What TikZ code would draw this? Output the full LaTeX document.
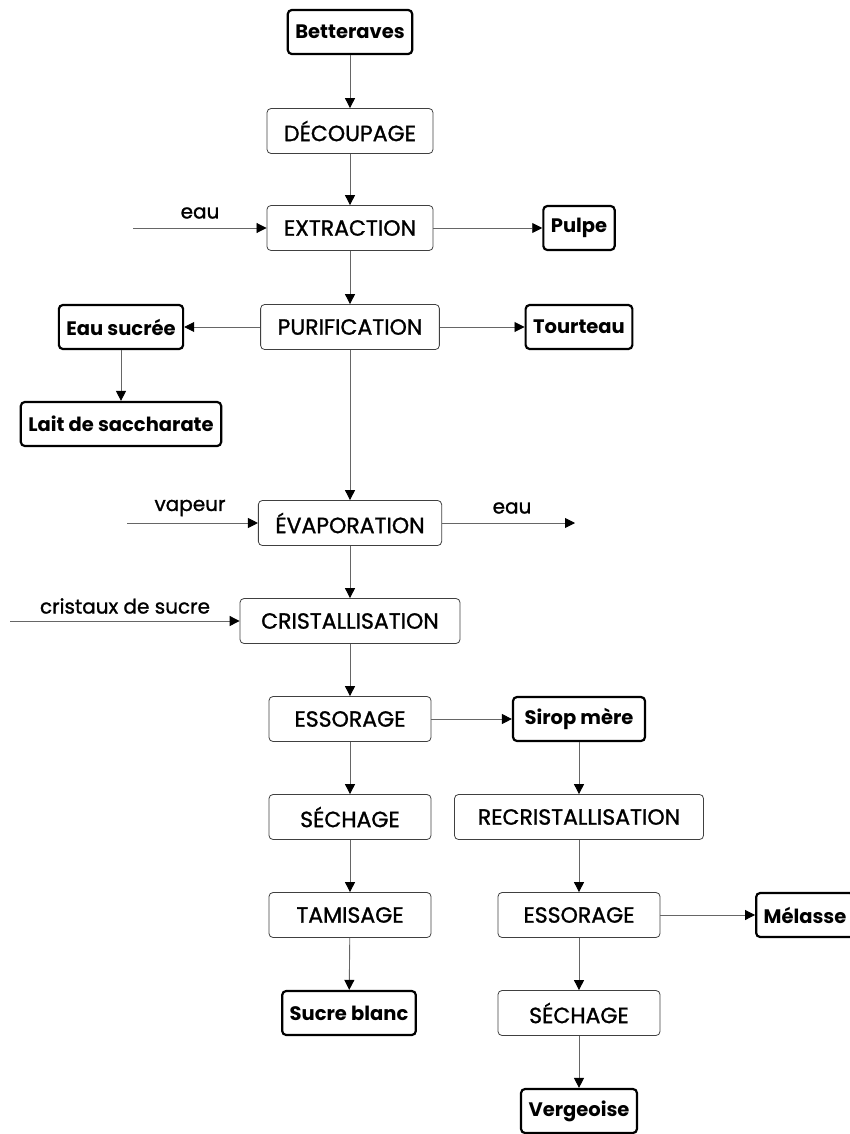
\documentclass[tikz,border=0pt]{standalone}
\usepackage{fontspec}
\setmainfont{Poppins}
\newfontfamily\procfont{Poppins}[FakeBold=1.2]
\usetikzlibrary{arrows.meta}
\begin{document}
\begin{tikzpicture}[x=1pt,y=-1pt,
  proc/.style={draw=black!75,line width=0.8pt,rounded corners=4pt,minimum width=162pt,minimum height=45pt,inner xsep=17pt,font=\procfont\fontsize{22}{26}\selectfont},
  prod/.style={draw=black,line width=2.2pt,rounded corners=4pt,minimum height=44pt,inner xsep=7.5pt,font=\bfseries\fontsize{19.5}{23}\selectfont},
  lab/.style={font=\procfont\fontsize{20}{24}\selectfont},
  flow/.style={draw=black!60,line width=0.9pt,-{Triangle[length=10pt,width=10pt,color=black]}}]
\useasboundingbox (0,0) rectangle (849,1134);
\node[prod] (bet) at (350,32) {Betteraves};
\node[proc] (dec) at (350,131) {DÉCOUPAGE};
\node[proc] (ext) at (350,228) {EXTRACTION};
\node[prod] (pul) at (579,228) {Pulpe};
\node[proc] (pur) at (350,327) {PURIFICATION};
\node[prod] (eas) at (121,327) {Eau sucrée};
\node[prod] (tou) at (579,327) {Tourteau};
\node[prod] (lai) at (121,424) {Lait de saccharate};
\node[proc] (eva) at (350,523) {ÉVAPORATION};
\node[proc, minimum width=220pt] (cri) at (350,621) {CRISTALLISATION};
\node[proc] (ess) at (350,719) {ESSORAGE};
\node[prod, minimum width=132pt] (sir) at (579,719) {Sirop mère};
\node[proc] (sec) at (350,817) {SÉCHAGE};
\node[proc, minimum width=249pt] (rec) at (579,817) {RECRISTALLISATION};
\node[proc] (tam) at (350,915) {TAMISAGE};
\node[proc] (es2) at (579,915) {ESSORAGE};
\node[prod] (mel) at (805,915) {Mélasse};
\node[prod] (suc) at (349,1013) {Sucre blanc};
\node[proc] (se2) at (579,1013) {SÉCHAGE};
\node[prod] (ver) at (579,1111) {Vergeoise};
\coordinate (eauin) at (133,228);
\coordinate (vapin) at (127,523);
\coordinate (eauout) at (575,523);
\coordinate (criin) at (10,621);
\node[lab] (leau) at (200,213) {eau};
\node[lab] (lvap) at (190,508) {vapeur};
\node[lab] (leau2) at (512,508) {eau};
\node[lab] (lcri) at (125,606) {cristaux de sucre};
\draw[flow] (bet) -- (dec);
\draw[flow] (dec) -- (ext);
\draw[flow] (eauin) -- (ext);
\draw[flow] (ext) -- (pul);
\draw[flow] (ext) -- (pur);
\draw[flow] (pur) -- (eas);
\draw[flow] (pur) -- (tou);
\draw[flow] (eas) -- (lai);
\draw[flow] (pur) -- (eva);
\draw[flow] (vapin) -- (eva);
\draw[flow] (eva) -- (eauout);
\draw[flow] (eva) -- (cri);
\draw[flow] (criin) -- (cri);
\draw[flow] (cri) -- (ess);
\draw[flow] (ess) -- (sir);
\draw[flow] (ess) -- (sec);
\draw[flow] (sec) -- (tam);
\draw[flow] (tam) -- (suc);
\draw[flow] (sir) -- (rec);
\draw[flow] (rec) -- (es2);
\draw[flow] (es2) -- (mel);
\draw[flow] (es2) -- (se2);
\draw[flow] (se2) -- (ver);
\end{tikzpicture}
\end{document}
